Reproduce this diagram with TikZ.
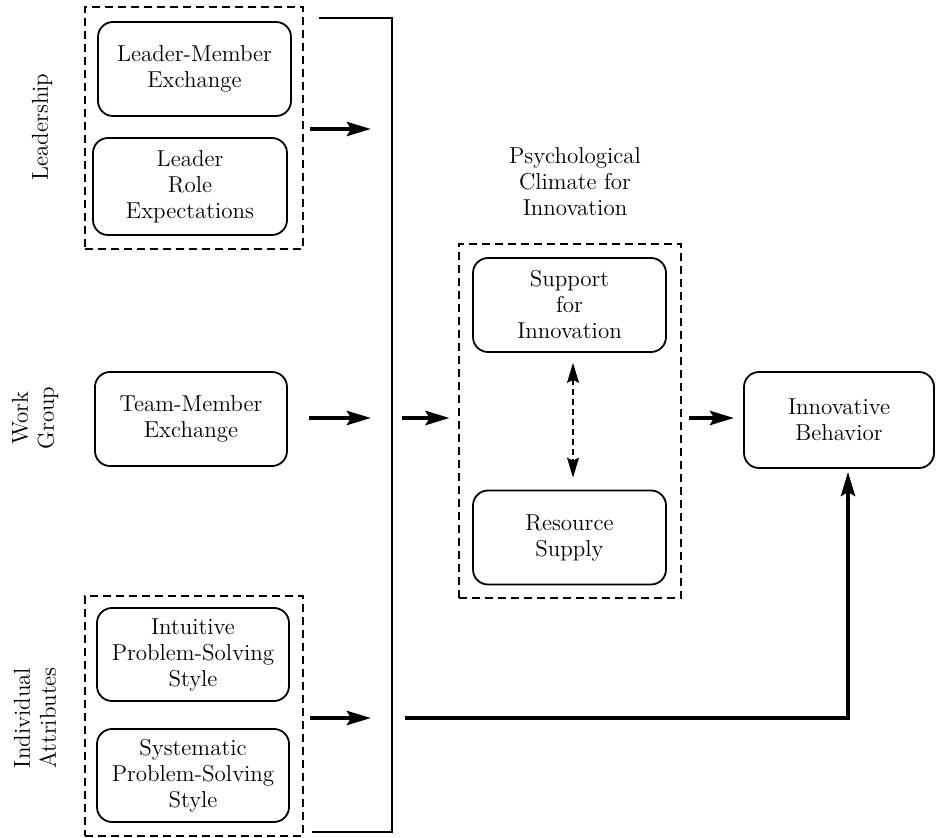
\documentclass[tikz,border=0pt]{standalone}
\usetikzlibrary{arrows.meta,positioning}
\begin{document}
\begin{tikzpicture}[x=0.5pt,y=-0.5pt,
  every node/.style={font=\fontsize{11.5}{13}\selectfont},
  rbox/.style={draw,line width=0.9pt,rounded corners=7.5pt,align=center,inner sep=0pt,minimum width=96.5pt,minimum height=47pt},
  dbox/.style={draw,line width=1.35pt,dash pattern=on 4.2pt off 2.3pt,inner sep=0pt},
  bigarrow/.style={line width=2.2pt,-{Stealth[length=12pt,width=7pt,inset=2pt]}},
  thinline/.style={line width=0.75pt},
  dblarrow/.style={line width=0.65pt,dash pattern=on 3pt off 2pt,{Stealth[length=10pt,width=6pt,inset=1.5pt]}-{Stealth[length=10pt,width=6pt,inset=1.5pt]}},
  grouplabel/.style={rotate=90,align=center,inner sep=0pt}]
\useasboundingbox (0,0) rectangle (936,838);

% dashed group boxes
\node[dbox,minimum width=109pt,minimum height=121pt] (lead) at (194,128) {};
\node[dbox,minimum width=109pt,minimum height=120pt] (indiv) at (194,716) {};
\node[dbox,minimum width=111pt,minimum height=177pt] (psych) at (570,421) {};

% rounded boxes
\node[rbox] (lmx) at (194.5,69) {Leader-Member\\Exchange};
\node[rbox,minimum width=97pt,minimum height=48.5pt] (lre) at (190,186.5) {Leader\\Role\\Expectations};
\node[rbox,minimum width=96pt] (tmx) at (191,419) {Team-Member\\Exchange};
\node[rbox,minimum width=96pt,minimum height=46.5pt] (ips) at (193,654.5) {Intuitive\\Problem-Solving\\Style};
\node[rbox,minimum width=96pt,minimum height=46.5pt] (sps) at (193,775.5) {Systematic\\Problem-Solving\\Style};
\node[rbox] (sup) at (569.5,305) {Support\\for\\Innovation};
\node[rbox] (res) at (569.5,537.5) {Resource\\Supply};
\node[rbox,minimum width=95pt,minimum height=48pt] (inb) at (839,420) {Innovative\\Behavior};

% texts
\node[align=center] (pci) at (575,182) {Psychological\\Climate for\\Innovation};
\node[grouplabel] (lleader) at (42,127) {Leadership};
\node[grouplabel] (lwork) at (35,418) {Work\\Group};
\node[grouplabel] (lindiv) at (35,718) {Individual\\Attributes};

% bracket
\coordinate (bt) at (319,18);
\coordinate (btr) at (392,18);
\coordinate (bbr) at (392,832);
\coordinate (bb) at (312,832);
\draw[thinline] (bt) -- (btr) -- (bbr) -- (bb);

% arrow end points at bracket
\coordinate (e1) at (371,129);
\coordinate (e2) at (371,418);
\coordinate (e3) at (371,718);
\coordinate (s4) at (402,418);
\coordinate (s5) at (405,718);
\coordinate (c5) at (848,718);

\draw[bigarrow] (lead.east |- e1) ++(6,0) -- (e1);
\draw[bigarrow] (309,418) -- (e2);
\draw[bigarrow] (indiv.east |- e3) ++(6,0) -- (e3);
\draw[bigarrow] (s4) -- ([xshift=-4pt]psych.west |- s4);
\draw[bigarrow] ([xshift=3.5pt]psych.east |- s4) -- ([xshift=-4.5pt]inb.west |- s4);
\draw[bigarrow] (s5) -- (c5) -- ([yshift=-1.5pt]inb.south -| c5);
\draw[dblarrow] ([yshift=-5pt]sup.south -| 573,0) -- ([yshift=6pt]res.north -| 573,0);
\end{tikzpicture}
\end{document}
